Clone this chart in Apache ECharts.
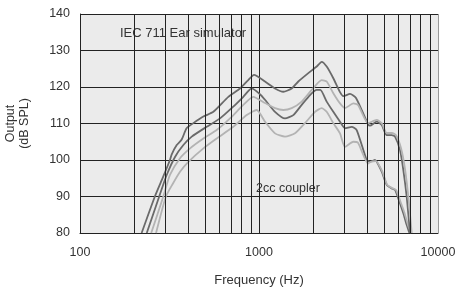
<!DOCTYPE html>
<html>
<head>
<meta charset="utf-8">
<script src="https://cdn.jsdelivr.net/npm/echarts/dist/echarts.min.js"></script>
<style>
  html, body { margin: 0; padding: 0; background: #fff; }
  #chart { width: 456px; height: 287px; }
</style>
</head>
<body>
<div id="chart"></div>
<script>
// IEC 711 ear simulator, dark receiver
const freqA = [221, 262, 292, 318, 325, 347, 370, 394, 430, 489, 556, 674, 783, 871, 938, 1080, 1229, 1367, 1523, 1658, 1886, 2101, 2240, 2389, 2601, 2835, 2959, 3224, 3483, 4064, 4170, 4545, 4847, 5169, 5512, 5753, 6134, 6400, 6687, 6977];
const levelA = [80, 90, 95.5, 100, 101.5, 104.1, 105.6, 108.7, 110.1, 111.9, 113.2, 117.3, 119.6, 121.9, 123.3, 121.5, 119.6, 118.7, 119.6, 121.5, 123.8, 125.6, 126.9, 125.6, 122.4, 118.6, 117.5, 118.1, 117.0, 109.8, 109.4, 110.5, 109.6, 106.8, 106.8, 106.4, 102.7, 97.3, 89.9, 80];

// IEC 711 ear simulator, light receiver
const freqB = [250, 292, 318, 362, 412, 489, 580, 689, 817, 929, 1080, 1229, 1367, 1523, 1732, 1970, 2240, 2389, 2601, 2835, 3023, 3364, 3573, 4070, 4545, 4847, 5169, 5530, 5830, 6210, 6530, 6840, 7130];
const levelB = [80, 90, 95.9, 100.5, 103.2, 105.9, 108.2, 111.4, 115.1, 117.3, 115.6, 114.2, 113.7, 114.2, 116.0, 119.2, 121.9, 121.5, 118.3, 115.5, 114.2, 115.5, 115.1, 110.1, 111.0, 110.1, 107.4, 107.4, 106.8, 103.3, 97.8, 89.6, 80];

// 2cc coupler, dark receiver
const freqC = [236, 277, 305, 340, 378, 421, 510, 606, 718, 817, 910, 1013, 1080, 1229, 1397, 1555, 1732, 1927, 2101, 2200, 2389, 2601, 2835, 3023, 3296, 3514, 3996, 4170, 4446, 4847, 5169, 5512, 5753, 6134, 6400, 6687, 6920];
const levelC = [80, 90, 95.9, 100.9, 104.1, 106.4, 109.1, 111.4, 114.6, 117.3, 119.6, 118.0, 116.5, 113.2, 111.4, 112.3, 115.1, 117.8, 119.2, 119.2, 116.0, 113.2, 110.5, 108.7, 109.1, 108.2, 100, 99.5, 100, 96.8, 93.2, 92.2, 91.8, 88.1, 85.4, 82.2, 80];

// 2cc coupler, light receiver
const freqD = [266, 302, 330, 362, 403, 489, 580, 718, 854, 971, 1080, 1229, 1397, 1589, 1807, 2055, 2240, 2389, 2601, 2835, 3023, 3364, 3573, 4064, 4200, 4500, 4900, 5200, 5550, 5830, 6210, 6500, 6800, 7080];
const levelD = [80, 90, 93.5, 96.8, 99.5, 103.2, 105.9, 109.1, 112.3, 113.7, 110.5, 107.3, 106.4, 107.3, 110.1, 113.2, 114.2, 113.2, 110.1, 107.3, 103.6, 105.0, 104.7, 99.0, 99.5, 99.7, 96.7, 93.2, 92.3, 91.8, 88.2, 85.5, 82.2, 80];

// minor vertical grid lines of the log axis
const minorFreqs = [200, 300, 400, 500, 600, 700, 800, 900, 2000, 3000, 4000, 5000, 6000, 7000, 8000, 9000];

const zip = (xs, ys) => xs.map((x, i) => [x, ys[i]]);

const chart = echarts.init(document.getElementById("chart"));

const curve = (data, color) => ({
  type: "line",
  data: data,
  symbol: "none",
  smooth: 0.2,
  z: 3,
  lineStyle: { color: color, width: 1.8 },
});

const options = {
  animation: false,
  textStyle: { fontFamily: "Liberation Sans, Arial, sans-serif" },
  grid: {
    left: 80,
    right: 18,
    top: 14,
    bottom: 54,
    containLabel: false,
    outerBoundsMode: "none",
    show: true,
    backgroundColor: "#ebebeb",
    borderWidth: 0,
  },
  xAxis: {
    type: "log",
    logBase: 10,
    min: 100,
    max: 10000,
    name: "Frequency (Hz)",
    nameLocation: "middle",
    nameGap: 41,
    nameTextStyle: { color: "#333", fontSize: 13 },
    axisLine: { lineStyle: { color: "#222", width: 1 } },
    axisTick: { show: false },
    axisLabel: {
      color: "#333",
      fontSize: 12.5,
      margin: 13,
      formatter: (v) => String(Math.round(v)),
    },
    splitLine: {
      show: true,
      lineStyle: { color: ["#222", "#222", "#999"], width: 1 },
    },
  },
  yAxis: {
    type: "value",
    min: 80,
    max: 140,
    interval: 10,
    name: "Output\n(dB SPL)",
    nameLocation: "middle",
    nameRotate: 90,
    nameGap: 48,
    nameTextStyle: { color: "#333", fontSize: 12.5, lineHeight: 14 },
    axisLine: { show: true, lineStyle: { color: "#222", width: 1 } },
    axisTick: { show: false },
    axisLabel: { color: "#333", fontSize: 12.5, margin: 10 },
    splitLine: { show: true, lineStyle: { color: "#222", width: 1 } },
  },
  graphic: [
    {
      type: "text",
      left: 120,
      top: 27,
      style: { text: "IEC 711 Ear simulator", fill: "#333", font: "13px Liberation Sans, Arial, sans-serif" },
    },
    {
      type: "text",
      left: 256,
      top: 182,
      style: { text: "2cc coupler", fill: "#333", font: "12.5px Liberation Sans, Arial, sans-serif" },
    },
  ],
  series: [
    {
      type: "line",
      data: [],
      z: 1,
      markLine: {
        silent: true,
        symbol: "none",
        animation: false,
        label: { show: false },
        lineStyle: { color: "#222", width: 1, type: "solid" },
        data: minorFreqs.map((f) => ({ xAxis: f })),
      },
    },
    curve(zip(freqC, levelC), "#6a6a6a"),
    curve(zip(freqD, levelD), "#b3b3b3"),
    curve(zip(freqA, levelA), "#6a6a6a"),
    curve(zip(freqB, levelB), "#b3b3b3"),
  ],
};

chart.setOption(options);
</script>
</body>
</html>
